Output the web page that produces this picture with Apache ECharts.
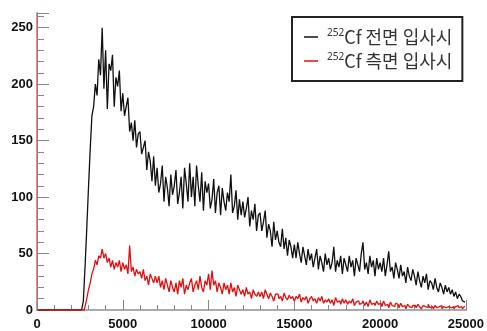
<!DOCTYPE html>
<html>
<head>
<meta charset="utf-8">
<script src="https://cdn.jsdelivr.net/npm/echarts@6/dist/echarts.min.js"></script>
<style>
  html, body { margin: 0; padding: 0; background: #fff; }
  #chart { width: 487px; height: 331px; }
</style>
</head>
<body>
<div id="chart"></div>
<script>
// histogram bins: 250 bins of width 100 from 0 to 25000
const binWidth = 100;
const seriesNames = ['252Cf 전면 입사시', '252Cf 측면 입사시'];
const xTicks = [0, 5000, 10000, 15000, 20000, 25000];
const yTicks = [0, 50, 100, 150, 200, 250];

// front incidence (black)
const frontCounts = [
    0, 0, 0, 0, 0, 0, 0, 0, 0, 0, 0, 0, 0, 0, 0, 0, 0, 0, 0, 0, 0, 0, 0, 0, 0, 0, 0,
    8, 38, 72, 108, 142, 172, 180,
    200, 190, 222, 208, 250, 196, 230, 178, 218, 212, 226, 180, 206, 198, 212, 176,
    192, 172, 180, 188, 158, 166, 150, 168, 144, 156,
    158, 138, 144, 150, 124, 140, 132, 114, 136, 110,
    126, 104, 112, 128, 96, 118, 108, 92, 120, 102,
    110, 124, 94, 104, 118, 90, 126, 112, 96, 130,
    100, 118, 92, 128, 110, 96, 122, 88, 114, 104,
    112, 90, 98, 116, 86, 104, 110, 84, 108, 96,
    88, 104, 96, 120, 86, 92, 106, 80, 98, 84,
    96, 82, 90, 100, 74, 88, 80, 94, 70, 84,
    86, 70, 78, 88, 64, 76, 70, 56, 78, 62,
    70, 60, 56, 72, 54, 64, 48, 62, 56, 46,
    58, 46, 60, 50, 42, 56, 48, 40, 54, 44,
    50, 38, 46, 54, 36, 48, 42, 34, 50, 40,
    46, 36, 42, 56, 34, 44, 38, 48, 32, 46,
    40, 34, 48, 38, 44, 30, 46, 40, 34, 50,
    60, 36, 42, 32, 48, 38, 44, 30, 46, 36,
    42, 34, 46, 30, 40, 52, 34, 38, 28, 42,
    36, 28, 40, 30, 34, 24, 38, 30, 26, 36,
    30, 22, 34, 26, 20, 30, 24, 32, 18, 26,
    24, 18, 28, 20, 16, 24, 20, 14, 22, 16,
    20, 14, 18, 12, 16, 10, 14, 12, 8, 7
];

// side incidence (red)
const sideCounts = [
    0, 0, 0, 0, 0, 0, 0, 0, 0, 0, 0, 0, 0, 0, 0, 0, 0, 0, 0, 0, 0, 0, 0, 0, 0, 0, 0, 0,
    3, 10, 18, 24, 32, 36, 44, 40, 48, 46, 54, 46, 50, 42, 46, 38, 44, 36, 42, 38, 44, 34,
    42, 36, 40, 32, 57, 34, 38, 30, 36, 32,
    34, 28, 36, 26, 30, 22, 32, 28, 24, 30,
    24, 30, 20, 26, 18, 28, 22, 16, 26, 20,
    16, 24, 14, 26, 20, 28, 14, 22, 18, 24,
    28, 16, 22, 26, 18, 30, 20, 16, 26, 22,
    32, 18, 35, 22, 26, 16, 24, 20, 14, 24,
    18, 22, 14, 24, 16, 20, 12, 22, 18, 14,
    18, 12, 20, 14, 16, 10, 18, 14, 12, 16,
    12, 16, 10, 18, 14, 10, 15, 12, 8, 14,
    14, 10, 12, 8, 15, 11, 9, 13, 10, 12,
    8, 12, 10, 14, 7, 11, 9, 12, 6, 10,
    12, 8, 10, 6, 11, 8, 12, 6, 9, 7,
    10, 6, 9, 4, 11, 7, 8, 5, 10, 6,
    9, 5, 8, 6, 10, 4, 7, 8, 5, 6,
    8, 4, 7, 3, 9, 5, 6, 4, 8, 5,
    6, 3, 8, 4, 5, 2, 7, 4, 3, 6,
    5, 2, 6, 3, 4, 1, 5, 3, 2, 4,
    4, 2, 5, 3, 1, 4, 3, 2, 5, 2,
    3, 1, 4, 2, 3, 4, 1, 3, 2, 3,
    4, 2, 3, 1, 3, 4, 2, 3, 1, 3
];

const toPairs = counts => counts.map((v, i) => [i * binWidth + binWidth / 2, v]);

const chart = echarts.init(document.getElementById('chart'));

const labelFont = {
    color: '#111',
    fontSize: 13,
    fontWeight: 'bold',
    fontFamily: 'Liberation Sans, Arial, sans-serif'
};

const option = {
    animation: false,
    backgroundColor: '#fff',
    grid: {
        left: 37,
        right: 17,
        top: 13,
        bottom: 16
    },
    legend: {
        orient: 'vertical',
        left: 292,
        top: 17,
        padding: [11, 10, 11, 12],
        itemGap: 6,
        itemWidth: 14,
        itemHeight: 1.5,
        icon: 'rect',
        backgroundColor: '#fff',
        borderColor: '#222',
        borderWidth: 2,
        borderRadius: 0,
        data: seriesNames,
        formatter: name => '{sup|252}{main|' + name.slice(3) + '}',
        textStyle: {
            rich: {
                sup: {
                    fontSize: 10,
                    color: '#333',
                    fontFamily: 'Noto Sans, sans-serif',
                    padding: [0, 0, 8, 4]
                },
                main: {
                    fontSize: 18,
                    color: '#333',
                    fontFamily: 'Noto Sans CJK KR, Noto Sans, sans-serif',
                    lineHeight: 22
                }
            }
        }
    },
    xAxis: [
        {
            type: 'value',
            min: 0,
            max: 25000,
            interval: 5000,
            axisLine: { show: true, lineStyle: { color: '#cc2222', width: 1 } },
            axisTick: { show: true, inside: true, length: 10, lineStyle: { color: '#888' } },
            minorTick: { show: true, splitNumber: 5, length: 5, lineStyle: { color: '#888' } },
            splitLine: { show: false },
            axisLabel: Object.assign({ margin: 8, formatter: v => String(v) }, labelFont)
        },
        {
            type: 'value',
            position: 'top',
            min: 0,
            max: 25000,
            axisLine: { show: true, lineStyle: { color: '#aaa', width: 2 } },
            axisTick: { show: false },
            axisLabel: { show: false },
            splitLine: { show: false }
        }
    ],
    yAxis: [
        {
            type: 'value',
            min: 0,
            max: 263,
            interval: 50,
            axisLine: { show: true, lineStyle: { color: '#666', width: 1 } },
            axisTick: { show: true, inside: true, length: 12, lineStyle: { color: '#888' } },
            minorTick: { show: true, splitNumber: 5, length: 7, lineStyle: { color: '#888' } },
            splitLine: { show: false },
            axisLabel: Object.assign({ margin: 4, showMaxLabel: false }, labelFont)
        },
        {
            type: 'value',
            position: 'right',
            min: 0,
            max: 263,
            axisLine: { show: true, lineStyle: { color: '#c87070', width: 1.5 } },
            axisTick: { show: false },
            axisLabel: { show: false },
            splitLine: { show: false }
        }
    ],
    series: [
        {
            name: seriesNames[0],
            type: 'line',
            step: 'middle',
            data: toPairs(frontCounts),
            symbol: 'none',
            color: '#111',
            lineStyle: { color: '#111', width: 1.3 },
            z: 2
        },
        {
            name: seriesNames[1],
            type: 'line',
            step: 'middle',
            data: toPairs(sideCounts),
            symbol: 'none',
            color: '#e01010',
            lineStyle: { color: '#e01010', width: 1.3 },
            z: 3
        }
    ]
};

chart.setOption(option);
</script>
</body>
</html>
